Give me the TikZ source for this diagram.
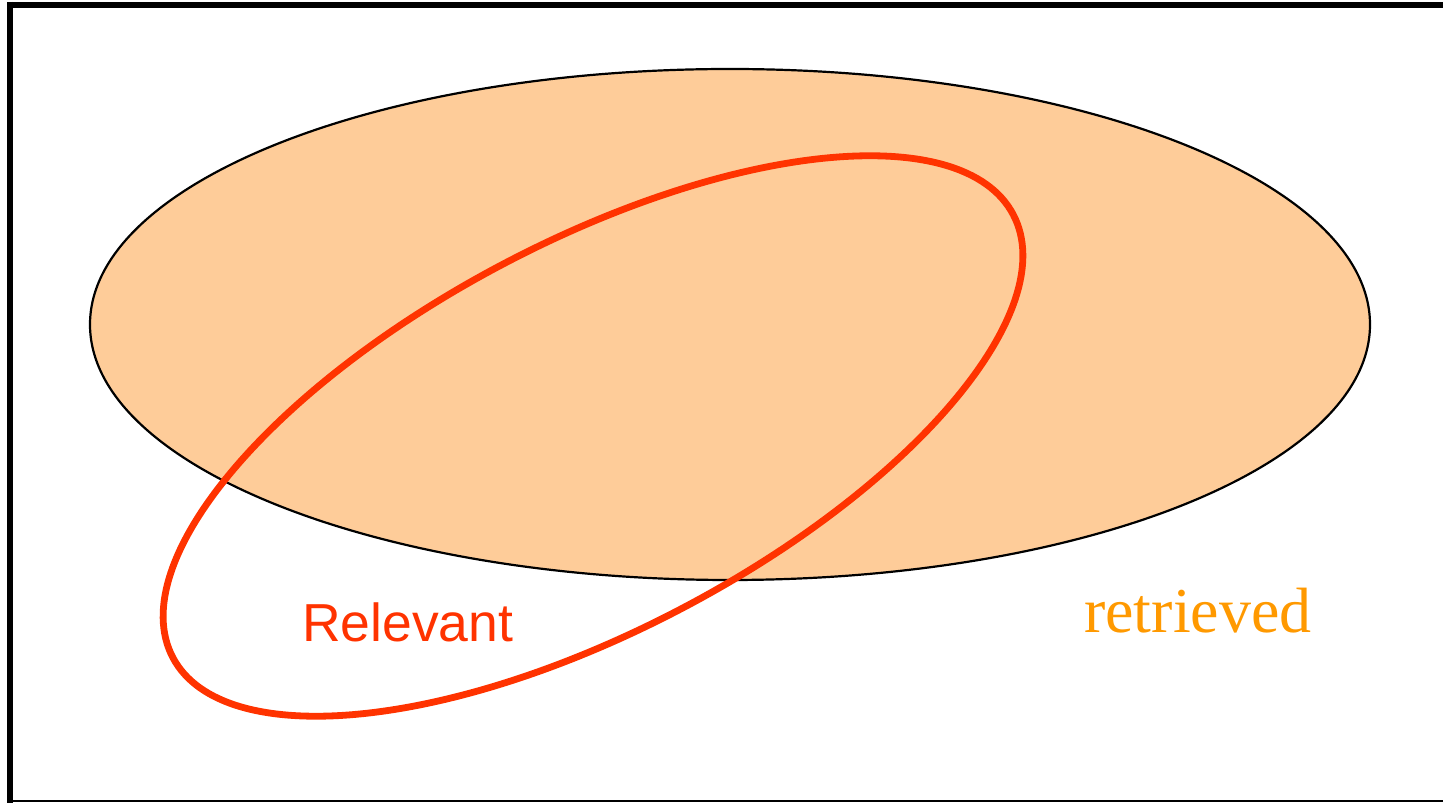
\documentclass[tikz,border=0pt]{standalone}
\usepackage{fontspec}
\setmainfont{Liberation Serif}
\newfontfamily\relfont{Liberation Sans}
\newfontfamily\retfont{Liberation Serif}
\definecolor{peach}{RGB}{254,204,153}
\definecolor{relred}{RGB}{255,51,0}
\definecolor{retorange}{RGB}{255,153,0}
\begin{document}
\begin{tikzpicture}[x=1pt,y=1pt,
  frameline/.style={black,line width=6pt},
  thinframe/.style={black,line width=2pt},
  retset/.style={fill=peach,draw=black,line width=2.2pt},
  relset/.style={draw=relred,line width=6.8pt},
  rellabel/.style={text=relred,font={\relfont\fontsize{53.5}{60}\selectfont},inner sep=0pt,anchor=base west},
  retlabel/.style={text=retorange,font={\retfont\fontsize{64}{70}\selectfont},inner sep=0pt,anchor=base west}]
\useasboundingbox (0,0) rectangle (1443,803);
% frame
\draw[frameline] (7,798) -- (1443,798);
\draw[frameline] (10,801) -- (10,0);
\draw[thinframe] (7,1.5) -- (1443,1.5);
% retrieved set
\draw[retset] (730,478.5) ellipse [x radius=640, y radius=255.5];
% relevant set
\draw[relset, rotate around={27.8:(593,367)}] (593,367) ellipse [x radius=475, y radius=194];
% labels
\node[rellabel] (relevant) at (302,161) {Relevant};
\node[retlabel] (retrieved) at (1084,170) {retrieved};
\end{tikzpicture}
\end{document}
